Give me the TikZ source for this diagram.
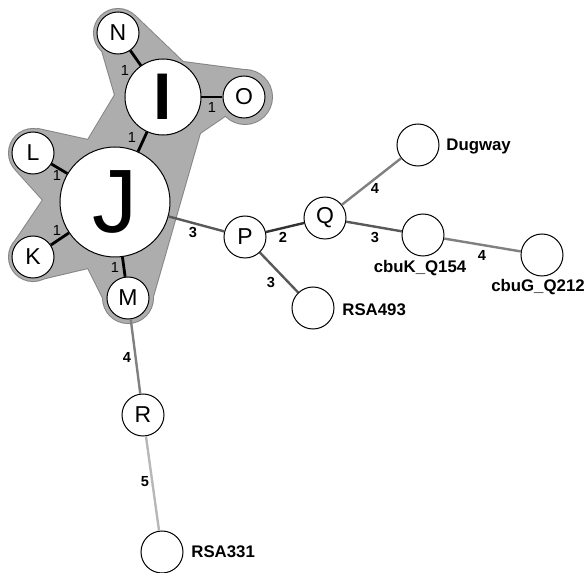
\documentclass[tikz,border=0pt]{standalone}
\usepackage{fontspec}
\setmainfont{Liberation Sans}
\begin{document}
\begin{tikzpicture}[x=0.5pt,y=-0.5pt,
  vtx/.style={circle,draw=black,line width=0.5pt,fill=white,inner sep=0pt,
    minimum size=21pt,font=\fontsize{11.5}{12}\selectfont},
  bigI/.style={vtx,minimum size=38pt,font=\fontsize{33}{34}\selectfont\bfseries},
  bigJ/.style={vtx,minimum size=55pt,font=\fontsize{45}{46}\selectfont},
  tag/.style={font=\fontsize{8.4}{9}\selectfont\bfseries,inner sep=1pt},
  one/.style={font=\fontsize{7.3}{8}\selectfont,inner sep=0pt},
  wt/.style={font=\fontsize{7.3}{8}\selectfont\bfseries,inner sep=0pt},
  e1/.style={draw=black,line width=1.4pt},
  e2/.style={draw=black!80,line width=1.2pt},
  e3/.style={draw=black!65,line width=1.2pt},
  e4/.style={draw=black!50,line width=1.2pt},
  e5/.style={draw=black!28,line width=1.2pt},
  hullrim/.style={draw=black!48,line width=1pt},
  hullfill/.style={fill=black!32},
]
\useasboundingbox (0,0) rectangle (586,573);

% shaded group around the cluster: rim first, then fill over it
\foreach \s in {hullrim,hullfill}{
  \path[\s] (99,40) -- (115,95) -- (88,140) -- (38,129) -- (16,170) -- (43,200)
    -- (16,240) -- (33,281) -- (88,268) -- (104,300) -- (152,300) -- (200,133)
    -- (225,116) -- (244,70) -- (183,62) -- (135,16) -- cycle;
  \path[\s] (118,33) circle[radius=12pt];
  \path[\s] (33,153) circle[radius=12pt];
  \path[\s] (33,257) circle[radius=12pt];
  \path[\s] (128,298) circle[radius=12.5pt];
  \path[\s] (245,97) circle[radius=13.5pt];
}

% vertices
\node[vtx] (N) at (118,33) {N};
\node[bigI] (I) at (163,97) {I};
\node[vtx] (O) at (244,97) {O};
\node[vtx] (L) at (33,153) {L};
\node[bigJ] (J) at (115,202) {J};
\node[vtx] (K) at (33,257) {K};
\node[vtx] (M) at (128,298) {M};
\node[vtx] (R) at (143,415) {R};
\node[vtx] (S331) at (162,552) {};
\node[vtx] (P) at (245,237) {P};
\node[vtx] (Q) at (325,218) {Q};
\node[vtx] (Dug) at (418,145) {};
\node[vtx] (CK) at (423,235) {};
\node[vtx] (CG) at (542,255) {};
\node[vtx] (S493) at (313,308) {};

% connectors
\path[e1] (N) -- (I);
\path[e1] (I) -- (O);
\path[e1] (I) -- (J);
\path[e1] (L) -- (J);
\path[e1] (K) -- (J);
\path[e1] (M) -- (J);
\path[e3] (J) -- (P);
\path[e2] (P) -- (Q);
\path[e3] (P) -- (S493);
\path[e4] (Q) -- (Dug);
\path[e3] (Q) -- (CK);
\path[e4] (CK) -- (CG);
\path[e4] (M) -- (R);
\path[e5] (R) -- (S331);

% vertex names beside the empty circles
\node[tag,anchor=west] (tDug) at (444,147) {Dugway};
\node[tag] (tCK) at (420,268) {cbuK\_Q154};
\node[tag] (tCG) at (538,287) {cbuG\_Q212};
\node[tag,anchor=west] (t493) at (340,310) {RSA493};
\node[tag,anchor=west] (t331) at (189,552) {RSA331};

% distances
\node[one] (dNI) at (125,70) {1};
\node[one] (dIO) at (212,107) {1};
\node[one] (dIJ) at (132,137) {1};
\node[one] (dLJ) at (57,175) {1};
\node[one] (dKJ) at (57,230) {1};
\node[one] (dMJ) at (115,267) {1};
\node[wt] (dJP) at (193,232) {3};
\node[wt] (dPQ) at (283,237) {2};
\node[wt] (dP4) at (271,282) {3};
\node[wt] (dQD) at (375,188) {4};
\node[wt] (dQK) at (375,237) {3};
\node[wt] (dKG) at (482,255) {4};
\node[wt] (dMR) at (127,357) {4};
\node[wt] (dRS) at (145,482) {5};
\end{tikzpicture}
\end{document}
